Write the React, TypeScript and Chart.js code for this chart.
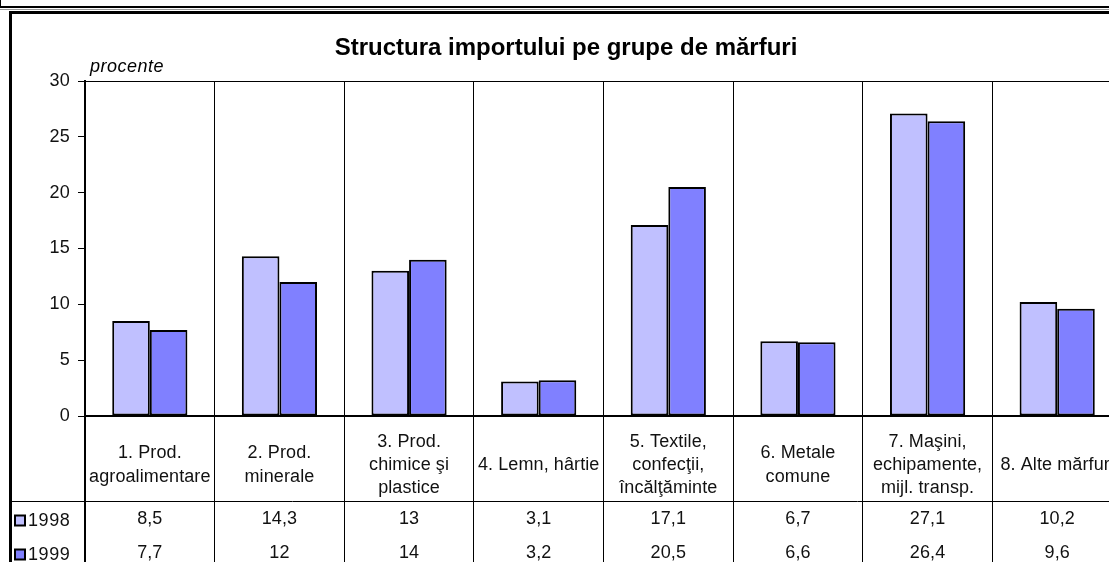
import React, { useEffect, useRef } from "react";
import { Chart, registerables } from "chart.js";

Chart.register(...registerables);

const title = "Structura importului pe grupe de mărfuri";
const unitLabel = "procente";
const categories: string[][] = [
  ["1. Prod.", "agroalimentare"],
  ["2. Prod.", "minerale"],
  ["3. Prod.", "chimice şi", "plastice"],
  ["4. Lemn, hârtie"],
  ["5. Textile,", "confecţii,", "încălţăminte"],
  ["6. Metale", "comune"],
  ["7. Maşini,", "echipamente,", "mijl. transp."],
  ["8. Alte mărfuri"],
];
const seriesNames = ["1998", "1999"];
const values1998 = [8.5, 14.3, 13, 3.1, 17.1, 6.7, 27.1, 10.2];
const values1999 = [7.7, 12, 14, 3.2, 20.5, 6.6, 26.4, 9.6];
const seriesColors = ["#C0C0FF", "#8080FF"];
const yMin = 0;
const yMax = 30;
const yStep = 5;

const FONT = '"Liberation Sans", Arial, Helvetica, sans-serif';

const fmt = (v: number) => String(v).replace(".", ",");

const tablePlugin = {
  id: "tablePlugin",
  beforeDraw(chart: any) {
    const ctx = chart.ctx as CanvasRenderingContext2D;
    const W = chart.width;
    const H = chart.height;
    ctx.save();
    ctx.fillStyle = "#fff";
    ctx.fillRect(0, 0, W, H);
    // remnant of the outer box above
    ctx.strokeStyle = "#000";
    ctx.lineWidth = 2;
    ctx.beginPath();
    ctx.moveTo(0, 7);
    ctx.lineTo(W, 7);
    ctx.stroke();
    ctx.lineWidth = 1;
    ctx.beginPath();
    ctx.moveTo(0.5, 0);
    ctx.lineTo(0.5, 8);
    ctx.stroke();
    ctx.strokeStyle = "#999";
    ctx.beginPath();
    ctx.moveTo(0, 9.5);
    ctx.lineTo(W, 9.5);
    ctx.stroke();
    // chart frame
    ctx.strokeStyle = "#000";
    ctx.lineWidth = 3;
    ctx.beginPath();
    ctx.moveTo(10.5, H + 5);
    ctx.lineTo(10.5, 12.5);
    ctx.lineTo(W + 5, 12.5);
    ctx.stroke();
    // title
    ctx.fillStyle = "#000";
    ctx.font = `bold 24px ${FONT}`;
    ctx.textAlign = "center";
    ctx.textBaseline = "alphabetic";
    ctx.fillText(title, 566, 55);
    ctx.font = `italic 18px ${FONT}`;
    (ctx as any).letterSpacing = "0.5px";
    ctx.textAlign = "left";
    ctx.fillText(unitLabel, 90, 72);
    ctx.restore();
    (ctx as any).letterSpacing = "0.3px";
  },
  afterDatasetsDraw(chart: any) {
    const ctx = chart.ctx as CanvasRenderingContext2D;
    const { left, right, top, bottom } = chart.chartArea;
    const H = chart.height;
    const W = chart.width;
    const xs = chart.scales.x;
    const n = categories.length;
    const w = (right - left) / n;
    const al = (p: number) => Math.round(p - 0.5) + 0.5;
    ctx.save();
    (ctx as any).letterSpacing = "0.1px";
    ctx.strokeStyle = "#000";
    // top border of plot
    ctx.lineWidth = 1;
    ctx.beginPath();
    ctx.moveTo(left, al(top));
    ctx.lineTo(right, al(top));
    ctx.stroke();
    // vertical table lines
    for (let i = 1; i <= n; i++) {
      const x = al(left + i * w);
      ctx.beginPath();
      ctx.moveTo(x, bottom);
      ctx.lineTo(x, H);
      ctx.stroke();
    }
    // row separator
    const sepY = bottom + 85.5;
    ctx.beginPath();
    ctx.moveTo(10, sepY);
    ctx.lineTo(W, sepY);
    ctx.stroke();
    // axes
    ctx.lineWidth = 2;
    ctx.beginPath();
    ctx.moveTo(left, top);
    ctx.lineTo(left, H);
    ctx.stroke();
    ctx.beginPath();
    ctx.moveTo(left - 1, bottom);
    ctx.lineTo(right, bottom);
    ctx.stroke();
    // category labels
    ctx.fillStyle = "#111";
    ctx.font = `18px ${FONT}`;
    ctx.textAlign = "center";
    ctx.textBaseline = "alphabetic";
    const midBase = bottom + 54;
    const lh = 23.3;
    categories.forEach((lines, i) => {
      const cx = xs.getPixelForValue(i);
      lines.forEach((t, j) => {
        ctx.fillText(t, cx, midBase + (j - (lines.length - 1) / 2) * lh);
      });
    });
    // values
    const rows = [values1998, values1999];
    const valBase = [bottom + 108, bottom + 142];
    rows.forEach((vals, r) => {
      vals.forEach((v, i) => {
        ctx.fillText(fmt(v), xs.getPixelForValue(i), valBase[r]);
      });
    });
    // legend keys
    ctx.textAlign = "left";
    seriesNames.forEach((name, r) => {
      const ky = valBase[r] - 8.5;
      ctx.fillStyle = seriesColors[r];
      ctx.fillRect(15, ky, 10, 10);
      ctx.lineWidth = 2;
      ctx.strokeStyle = "#000";
      ctx.strokeRect(15, ky, 10, 10);
      ctx.fillStyle = "#111";
      (ctx as any).letterSpacing = "0.6px";
      ctx.fillText(name, 28, valBase[r] + 1.5);
    });
    ctx.restore();
  },
};

export default function App() {
  const ref = useRef<HTMLCanvasElement | null>(null);
  useEffect(() => {
    if (!ref.current) return;
    const chart = new Chart(ref.current, {
      type: "bar",
      data: {
        labels: categories,
        datasets: [
          {
            label: seriesNames[0],
            data: values1998,
            backgroundColor: seriesColors[0],
            borderColor: "#000",
            borderWidth: 2,
            borderSkipped: false,
          },
          {
            label: seriesNames[1],
            data: values1999,
            backgroundColor: seriesColors[1],
            borderColor: "#000",
            borderWidth: 2,
            borderSkipped: false,
          },
        ],
      },
      options: {
        responsive: false,
        animation: false,
        devicePixelRatio: 1,
        layout: { padding: { top: 81, right: 18, left: 0, bottom: 0 } },
        datasets: { bar: { barPercentage: 1, categoryPercentage: 0.58 } },
        plugins: {
          legend: { display: false },
          title: { display: false },
          tooltip: { enabled: false },
        },
        scales: {
          x: {
            grid: { offset: true, color: "#000", lineWidth: 1, drawTicks: false },
            border: { display: false },
            ticks: { display: false },
            afterFit: (s: any) => {
              s.height = 146;
            },
          },
          y: {
            min: yMin,
            max: yMax,
            ticks: {
              stepSize: yStep,
              color: "#111",
              font: { size: 18, family: FONT },
              padding: 8,
            },
            grid: {
              drawOnChartArea: false,
              color: "#000",
              tickLength: 7,
              lineWidth: 1,
            },
            border: { display: true, color: "#000", width: 2 },
            afterFit: (s: any) => {
              s.width = 85;
            },
          },
        },
      } as any,
      plugins: [tablePlugin],
    });
    return () => chart.destroy();
  }, []);
  return (
    <div
      style={{
        position: "fixed",
        left: 0,
        top: 0,
        width: 1109,
        height: 562,
        overflow: "hidden",
        background: "#fff",
      }}
    >
      <canvas ref={ref} width={1140} height={562} style={{ display: "block" }} />
    </div>
  );
}
